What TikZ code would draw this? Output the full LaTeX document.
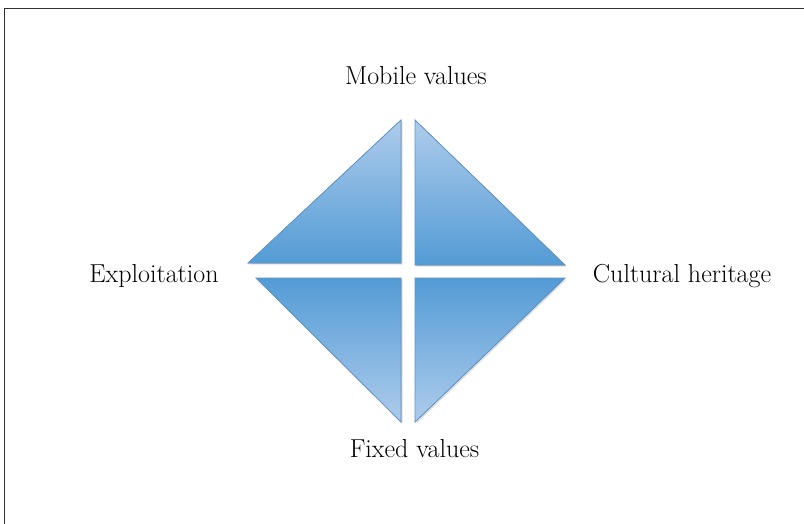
\documentclass[tikz,border=0pt]{standalone}
\usetikzlibrary{shadows}
\definecolor{triLight}{HTML}{AECCEB}
\definecolor{triDark}{HTML}{539BD5}
\definecolor{triEdge}{HTML}{5E94C8}
\tikzset{
  lbl/.style={anchor=base, inner sep=0pt, font=\fontsize{26}{30}\selectfont},
  tridown/.style={draw=triEdge, line width=0.8pt, top color=triLight, bottom color=triDark,
     drop shadow={shadow xshift=1.5pt, shadow yshift=-1.5pt, opacity=0.25}},
  triup/.style={draw=triEdge, line width=0.8pt, top color=triDark, bottom color=triLight,
     drop shadow={shadow xshift=1.5pt, shadow yshift=-1.5pt, opacity=0.25}},
}
\begin{document}
\begin{tikzpicture}[x=1pt,y=-1pt]
\useasboundingbox (0,0) rectangle (804,524);
\fill[white] (0,0) rectangle (804,524);
\draw[line width=0.8pt, black!80] (4,524) -- (4,8) -- (804,8);
% triangles
\filldraw[tridown] (401,120) -- (248,263) -- (401,263) -- cycle;
\filldraw[tridown] (415,120) -- (565,265) -- (415,265) -- cycle;
\filldraw[triup] (256,278) -- (401,278) -- (401,422) -- cycle;
\filldraw[triup] (415,278) -- (565,278) -- (415,422) -- cycle;
% labels
\node[lbl] (mobile) at (416,85) {Mobile values};
\node[lbl] (exploit) at (154,283) {Exploitation};
\node[lbl] (heritage) at (682,283) {Cultural heritage};
\node[lbl] (fixed) at (414.5,457) {Fixed values};
\end{tikzpicture}
\end{document}
